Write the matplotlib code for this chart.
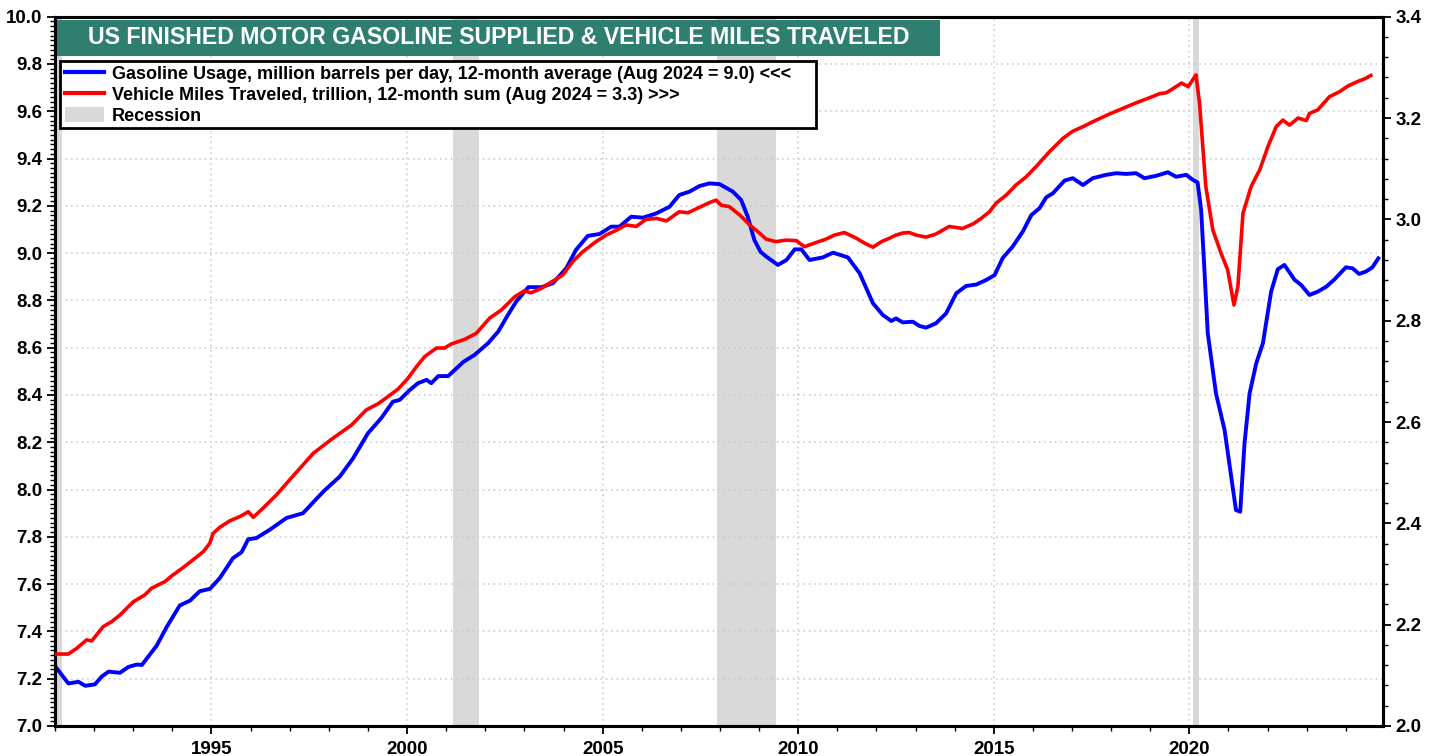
import matplotlib
matplotlib.use("Agg")
import matplotlib.pyplot as plt
from matplotlib.patches import Rectangle, Patch
from matplotlib.lines import Line2D
from matplotlib.ticker import MultipleLocator, FormatStrFormatter

plt.rcParams['font.family'] = ['Liberation Sans', 'DejaVu Sans']

# ---- Data (decimal year, value) ----
gas_t = [1991.04, 1991.34, 1991.60, 1991.77, 1992.02, 1992.20, 1992.37, 1992.66, 1992.88, 1993.09,
         1993.22, 1993.60, 1993.86, 1994.19, 1994.45, 1994.70, 1994.96, 1995.21, 1995.55, 1995.77,
         1995.94, 1996.15, 1996.49, 1996.92, 1997.34, 1997.68, 1997.90, 1998.28, 1998.62, 1999.00,
         1999.34, 1999.64, 1999.81, 2000.07, 2000.28, 2000.50, 2000.62, 2000.80, 2001.05, 2001.44,
         2001.73, 2002.07, 2002.33, 2002.58, 2002.79, 2003.10, 2003.44, 2003.73, 2004.07, 2004.32,
         2004.62, 2004.92, 2005.22, 2005.43, 2005.73, 2006.03, 2006.37, 2006.71, 2006.96, 2007.22,
         2007.48, 2007.73, 2007.99, 2008.33, 2008.54, 2008.71, 2008.88, 2009.04, 2009.18, 2009.48,
         2009.70, 2009.91, 2010.08, 2010.29, 2010.63, 2010.89, 2011.27, 2011.57, 2011.91, 2012.16,
         2012.38, 2012.50, 2012.67, 2012.93, 2013.10, 2013.27, 2013.52, 2013.78, 2014.04, 2014.29,
         2014.55, 2014.80, 2015.02, 2015.23, 2015.48, 2015.74, 2015.96, 2016.17, 2016.34, 2016.51,
         2016.81, 2017.02, 2017.28, 2017.53, 2017.87, 2018.13, 2018.38, 2018.64, 2018.85, 2019.15,
         2019.45, 2019.66, 2019.92, 2020.09, 2020.21, 2020.30, 2020.38, 2020.47, 2020.68, 2020.90,
         2021.02, 2021.19, 2021.30, 2021.41, 2021.54, 2021.71, 2021.88, 2022.09, 2022.26, 2022.43,
         2022.69, 2022.86, 2023.07, 2023.28, 2023.50, 2023.71, 2024.00, 2024.17, 2024.34, 2024.51,
         2024.68, 2024.83]
gas_v = [7.245, 7.180, 7.187, 7.170, 7.176, 7.210, 7.230, 7.225, 7.250, 7.260,
         7.258, 7.340, 7.420, 7.510, 7.530, 7.570, 7.580, 7.625, 7.710, 7.735,
         7.790, 7.795, 7.830, 7.880, 7.900, 7.960, 7.998, 8.055, 8.132, 8.238,
         8.302, 8.372, 8.379, 8.421, 8.450, 8.464, 8.450, 8.480, 8.480, 8.540,
         8.570, 8.619, 8.668, 8.739, 8.795, 8.856, 8.856, 8.873, 8.936, 9.014,
         9.073, 9.081, 9.112, 9.112, 9.154, 9.150, 9.168, 9.196, 9.246, 9.260,
         9.284, 9.295, 9.292, 9.260, 9.225, 9.154, 9.055, 9.005, 8.986, 8.950,
         8.971, 9.016, 9.016, 8.971, 8.982, 9.002, 8.982, 8.915, 8.788, 8.739,
         8.713, 8.724, 8.707, 8.710, 8.692, 8.685, 8.703, 8.745, 8.830, 8.861,
         8.867, 8.886, 8.907, 8.980, 9.027, 9.091, 9.161, 9.190, 9.236, 9.253,
         9.307, 9.317, 9.288, 9.317, 9.331, 9.338, 9.335, 9.338, 9.317, 9.327,
         9.342, 9.323, 9.331, 9.310, 9.299, 9.183, 8.943, 8.661, 8.407, 8.252,
         8.111, 7.914, 7.906, 8.196, 8.407, 8.534, 8.619, 8.837, 8.932, 8.950,
         8.887, 8.865, 8.823, 8.837, 8.858, 8.889, 8.940, 8.936, 8.912, 8.922,
         8.940, 8.978]

vmt_t = [1991.04, 1991.34, 1991.55, 1991.81, 1991.94, 1992.23, 1992.45, 1992.66, 1993.00, 1993.30,
         1993.47, 1993.81, 1993.98, 1994.28, 1994.53, 1994.79, 1994.96, 1995.04, 1995.21, 1995.47,
         1995.77, 1995.94, 1996.07, 1996.32, 1996.66, 1997.00, 1997.30, 1997.60, 1998.07, 1998.58,
         1998.96, 1999.26, 1999.51, 1999.77, 2000.02, 2000.24, 2000.45, 2000.75, 2000.96, 2001.13,
         2001.47, 2001.77, 2002.11, 2002.41, 2002.75, 2003.00, 2003.17, 2003.44, 2003.64, 2003.98,
         2004.24, 2004.49, 2004.83, 2005.09, 2005.34, 2005.60, 2005.86, 2006.11, 2006.37, 2006.63,
         2006.96, 2007.18, 2007.48, 2007.73, 2007.90, 2008.03, 2008.24, 2008.50, 2008.76, 2009.01,
         2009.18, 2009.43, 2009.69, 2009.95, 2010.16, 2010.41, 2010.71, 2010.93, 2011.18, 2011.48,
         2011.70, 2011.91, 2012.13, 2012.34, 2012.50, 2012.67, 2012.84, 2013.01, 2013.27, 2013.52,
         2013.86, 2014.20, 2014.47, 2014.68, 2014.89, 2015.06, 2015.32, 2015.57, 2015.83, 2016.08,
         2016.43, 2016.77, 2017.02, 2017.28, 2017.62, 2017.96, 2018.30, 2018.64, 2018.98, 2019.24,
         2019.41, 2019.54, 2019.80, 2019.97, 2020.17, 2020.26, 2020.42, 2020.60, 2020.81, 2020.98,
         2021.14, 2021.24, 2021.37, 2021.58, 2021.80, 2022.01, 2022.22, 2022.39, 2022.56, 2022.78,
         2022.99, 2023.07, 2023.28, 2023.58, 2023.84, 2024.05, 2024.30, 2024.47, 2024.64]
vmt_v = [2.142, 2.142, 2.153, 2.170, 2.168, 2.196, 2.206, 2.219, 2.245, 2.259,
         2.272, 2.285, 2.296, 2.313, 2.328, 2.344, 2.361, 2.380, 2.392, 2.405,
         2.415, 2.423, 2.412, 2.430, 2.456, 2.486, 2.512, 2.538, 2.566, 2.594,
         2.624, 2.636, 2.650, 2.665, 2.686, 2.709, 2.729, 2.746, 2.746, 2.754,
         2.763, 2.775, 2.805, 2.821, 2.847, 2.859, 2.855, 2.864, 2.874, 2.890,
         2.917, 2.936, 2.956, 2.969, 2.978, 2.989, 2.986, 3.000, 3.002, 2.997,
         3.015, 3.013, 3.024, 3.033, 3.038, 3.028, 3.025, 3.009, 2.989, 2.973,
         2.961, 2.956, 2.959, 2.958, 2.946, 2.953, 2.961, 2.969, 2.974, 2.963,
         2.953, 2.945, 2.956, 2.963, 2.969, 2.973, 2.974, 2.969, 2.965, 2.971,
         2.986, 2.982, 2.991, 3.002, 3.015, 3.032, 3.048, 3.068, 3.084, 3.104,
         3.134, 3.160, 3.174, 3.183, 3.196, 3.208, 3.219, 3.230, 3.240, 3.248,
         3.250, 3.256, 3.269, 3.262, 3.285, 3.229, 3.065, 2.979, 2.933, 2.900,
         2.831, 2.867, 3.012, 3.065, 3.098, 3.144, 3.183, 3.196, 3.186, 3.200,
         3.195, 3.209, 3.216, 3.242, 3.252, 3.263, 3.272, 3.277, 3.284]

recession_start = [1990.50, 2001.17, 2007.92, 2020.08]
recession_end = [1991.17, 2001.84, 2009.42, 2020.25]

title = "US FINISHED MOTOR GASOLINE SUPPLIED & VEHICLE MILES TRAVELED"
gas_label = "Gasoline Usage, million barrels per day, 12-month average (Aug 2024 = 9.0) <<<"
vmt_label = "Vehicle Miles Traveled, trillion, 12-month sum (Aug 2024 = 3.3) >>>"
rec_label = "Recession"

# ---- Figure ----
W, H = 1439, 756
fig = plt.figure(figsize=(W / 100, H / 100), dpi=100)
ax = fig.add_axes([55 / W, 1 - 726 / H, (1383 - 55) / W, (726 - 16.7) / H])
ax2 = ax.twinx()

rec_color = '#D9D9D9'
for s, e in zip(recession_start, recession_end):
    ax.axvspan(s, e, color=rec_color, lw=0, zorder=0.5)

ax.plot(gas_t, gas_v, color='#0000FF', lw=2.8, zorder=3, solid_joinstyle='round')
ax2.plot(vmt_t, vmt_v, color='#FF0000', lw=2.6, zorder=3, solid_joinstyle='round')

ax.set_xlim(1991.0, 2024.95)
ax.set_ylim(7.0, 10.0)
ax2.set_ylim(2.0, 3.4)

ax.set_xticks([1995, 2000, 2005, 2010, 2015, 2020])
ax.xaxis.set_minor_locator(MultipleLocator(1))
ax.yaxis.set_major_locator(MultipleLocator(0.2))
ax.yaxis.set_minor_locator(MultipleLocator(0.02))
ax.yaxis.set_major_formatter(FormatStrFormatter('%.1f'))
ax2.yaxis.set_major_locator(MultipleLocator(0.2))
ax2.yaxis.set_minor_locator(MultipleLocator(0.04))
ax2.yaxis.set_major_formatter(FormatStrFormatter('%.1f'))

ax.grid(True, which='major', axis='both', color='#C8C8C8', linestyle=(0, (1, 2.5)), lw=1.1, zorder=0.6)
ax.set_axisbelow(True)

for a in (ax, ax2):
    for sp in a.spines.values():
        sp.set_linewidth(2.2)
        sp.set_color('black')
    a.tick_params(axis='both', which='major', direction='out', length=6, width=1.3,
                  labelsize=13.5, pad=3)
    a.tick_params(axis='both', which='minor', direction='out', length=3.5, width=1.0)
ax.tick_params(axis='x', which='major', pad=5)
for lab in ax.get_xticklabels() + ax.get_yticklabels() + ax2.get_yticklabels():
    lab.set_fontweight('bold')

# Title box
fig.patches.append(Rectangle((57 / W, 1 - 56 / H), (940 - 57) / W, (56 - 20) / H,
                             transform=fig.transFigure, facecolor='#2E7F70',
                             edgecolor='none', zorder=5))
fig.text((57 + 940) / 2 / W, 1 - 38 / H, title, ha='center', va='center',
         color='white', fontsize=16.7, fontweight='bold', zorder=6)

# Legend frame (drawn separately to match the reference box size)
frame = Rectangle((60 / W, 1 - 128 / H), (816 - 60) / W, (128 - 61) / H,
                  transform=fig.transFigure, facecolor='white', edgecolor='black',
                  linewidth=2.0, zorder=9, clip_on=False)
ax2.add_patch(frame)

handles = [Line2D([], [], color='#0000FF', lw=3),
           Line2D([], [], color='#FF0000', lw=3),
           Patch(facecolor=rec_color, edgecolor='none')]
leg = ax2.legend(handles, [gas_label, vmt_label, rec_label],
                 loc='upper left', bbox_to_anchor=(61 / W, 1 - 62 / H),
                 bbox_transform=fig.transFigure, frameon=False,
                 borderpad=0.2, labelspacing=0.16,
                 handlelength=2.2, handleheight=0.9, handletextpad=0.4, borderaxespad=0,
                 prop={'weight': 'bold', 'size': 13})
leg.set_zorder(10)

fig.savefig('out.png', dpi=100, facecolor='white')
